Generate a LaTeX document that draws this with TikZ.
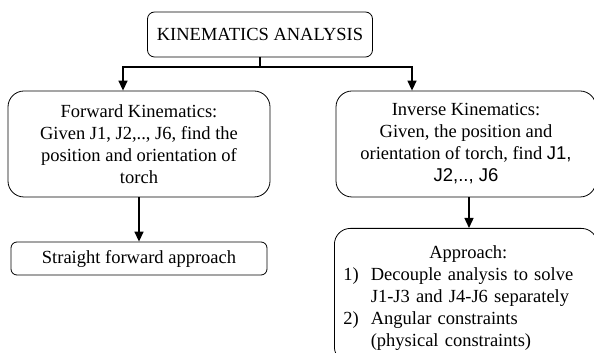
\documentclass[tikz,border=0pt]{standalone}
\usepackage{fontspec}
\setmainfont{Liberation Serif}
\newfontfamily\sansj{Liberation Sans}
\usepackage{tikz}
\usetikzlibrary{arrows.meta}

\begin{document}
\begin{tikzpicture}[x=1pt,y=1pt,
        font=\fontsize{18.5}{22}\selectfont,
        box/.style={draw,line width=0.8pt,align=center,inner sep=0pt},
        arr/.style={line width=1.4pt,-{Triangle[width=9pt,length=10pt]}}]
        \useasboundingbox (0,0) rectangle (594,353);
        \clip (0,0) rectangle (594,353);
        \node[box,rounded corners=7pt,minimum width=225,minimum height=45] (kin) at (260,318.5) {KINEMATICS ANALYSIS};
        \node[box,rounded corners=16pt,minimum width=262,minimum height=106] (fwd) at (139,209) {Forward Kinematics:\\ Given J1, J2,.., J6, find the\\ position and orientation of\\ torch};
        \node[box,rounded corners=16pt,minimum width=260,minimum height=106] (inv) at (466,209) {Inverse Kinematics:\\ Given, the position and\\ orientation of torch, find {\sansj J1,}\\ {\sansj J2,.., J6}};
        \node[box,rounded corners=6pt,minimum width=256,minimum height=33] (sfa) at (139,94.5) {Straight forward approach};
        \node[box,rounded corners=16pt,anchor=north west,text width=245,inner xsep=9pt,inner ysep=10pt,align=left] (app) at (334,125) {%
            \begin{tabular}{@{}l@{\hspace{12pt}}l@{}}
            \multicolumn{2}{c}{\rule{0pt}{20pt}\hspace{20pt}Approach:}\\
            1) & Decouple analysis to solve\\
               & J1-J3 and J4-J6 separately\\
            2) & Angular constraints\\
               & (physical constraints)
            \end{tabular}};
        \coordinate (split) at (260,286);
        \draw[line width=1.4pt] (kin.south) -- (split);
        \draw[arr] (split) -| ([xshift=-16pt]fwd.north);
        \draw[arr] (split) -| ([xshift=-54pt]inv.north);
        \draw[arr] (fwd.south) -- (sfa.north);
        \draw[arr] ([xshift=3pt]inv.south) -- ([xshift=3pt]inv.south |- app.north);
    \end{tikzpicture}
\end{document}
